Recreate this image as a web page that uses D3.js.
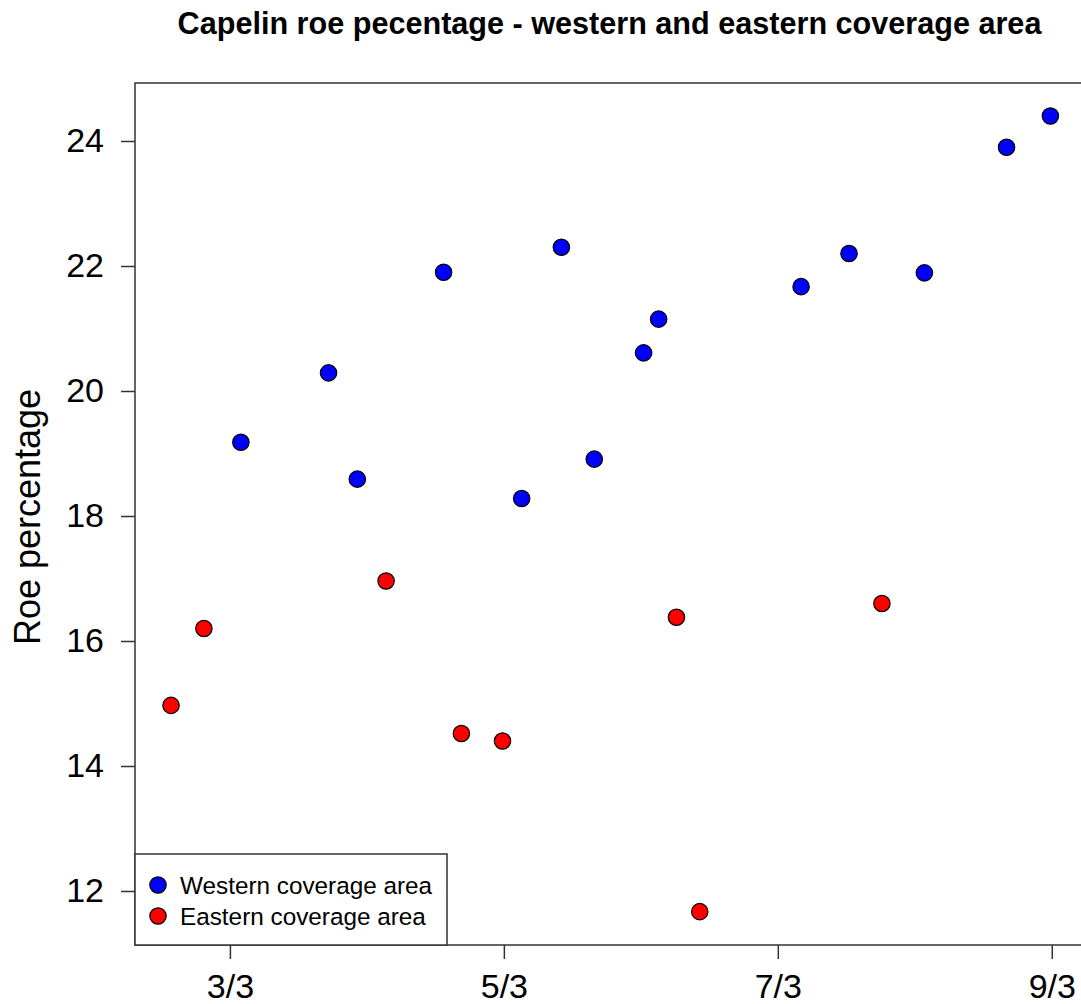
<!DOCTYPE html>
<html>
<head>
<meta charset="utf-8">
<script src="https://cdn.jsdelivr.net/npm/d3@7"></script>
<style>
  html, body { margin: 0; padding: 0; background: #fff; }
  svg { display: block; font-family: "Liberation Sans", Arial, sans-serif; }
</style>
</head>
<body>
<svg id="chart" width="1081" height="1004"></svg>
<script>
// Sampling day (day of March) and roe percentage for each coverage area
const westernDay = [3.08, 3.72, 3.93, 4.56, 5.13, 5.42, 5.66, 6.02, 6.13, 7.17, 7.52, 8.07, 8.67, 8.99];
const westernRoe = [19.18, 20.29, 18.59, 21.90, 18.28, 22.30, 18.91, 20.61, 21.15, 21.67, 22.20, 21.89, 23.90, 24.40];
const easternDay = [2.57, 2.81, 4.14, 4.69, 4.99, 6.26, 6.43, 7.76];
const easternRoe = [14.97, 16.20, 16.96, 14.52, 14.40, 16.38, 11.67, 16.60];

const xTickValues = [3, 5, 7, 9];
const xTickLabels = ["3/3", "5/3", "7/3", "9/3"];
const yTickValues = [12, 14, 16, 18, 20, 22, 24];

const seriesNames = ["Western coverage area", "Eastern coverage area"];
const seriesColors = ["#0000ff", "#ff0000"];

const titleText = "Capelin roe pecentage - western and eastern coverage area";
const yLabelText = "Roe percentage";

// Plot region
const plotLeft = 135, plotTop = 83, plotRight = 1086, plotBottom = 945;

const svg = d3.select("#chart");

const x = d3.scaleLinear().domain([2.307, 9.25]).range([plotLeft, plotRight]);
const y = d3.scaleLinear().domain([11.136, 24.928]).range([plotBottom, plotTop]);

// Title
svg.append("text")
  .attr("x", (plotLeft + plotRight) / 2 - 1)
  .attr("y", 34)
  .attr("text-anchor", "middle")
  .attr("font-weight", "bold")
  .attr("font-size", 30.6)
  .attr("fill", "#000")
  .text(titleText);

// Axes
const xAxis = d3.axisBottom(x)
  .tickValues(xTickValues)
  .tickFormat((d, i) => xTickLabels[i])
  .tickSize(14)
  .tickPadding(15);

const yAxis = d3.axisLeft(y)
  .tickValues(yTickValues)
  .tickSize(14)
  .tickPadding(17);

const gx = svg.append("g").attr("transform", `translate(0,${plotBottom})`).call(xAxis);
const gy = svg.append("g").attr("transform", `translate(${plotLeft},0)`).call(yAxis);

[gx, gy].forEach(g => {
  g.select(".domain").remove();
  g.selectAll(".tick line").attr("stroke", "#333").attr("stroke-width", 1.5);
  g.selectAll(".tick text")
    .attr("font-family", "'Liberation Sans', Arial, sans-serif")
    .attr("font-size", 34)
    .attr("fill", "#000");
});

// Y axis title
svg.append("text")
  .attr("transform", `translate(40,${(plotTop + plotBottom) / 2 + 3}) rotate(-90)`)
  .attr("text-anchor", "middle")
  .attr("font-size", 36)
  .attr("fill", "#000")
  .text(yLabelText);

// Plot frame
svg.append("rect")
  .attr("x", plotLeft).attr("y", plotTop)
  .attr("width", plotRight - plotLeft).attr("height", plotBottom - plotTop)
  .attr("fill", "none")
  .attr("stroke", "#333")
  .attr("stroke-width", 1.5);

// Points
const western = westernDay.map((d, i) => ({ day: d, roe: westernRoe[i] }));
const eastern = easternDay.map((d, i) => ({ day: d, roe: easternRoe[i] }));

[western, eastern].forEach((series, k) => {
  svg.append("g")
    .selectAll("circle")
    .data(series)
    .join("circle")
    .attr("cx", d => x(d.day))
    .attr("cy", d => y(d.roe))
    .attr("r", 8.2)
    .attr("fill", seriesColors[k])
    .attr("stroke", "#000")
    .attr("stroke-width", 1.2);
});

// Legend
const legendTop = 854, legendRight = 447;
const legend = svg.append("g");
legend.append("rect")
  .attr("x", plotLeft).attr("y", legendTop)
  .attr("width", legendRight - plotLeft).attr("height", plotBottom - legendTop)
  .attr("fill", "#fff")
  .attr("stroke", "#333")
  .attr("stroke-width", 1.5);

seriesNames.forEach((name, i) => {
  const cy = 885 + i * 31;
  legend.append("circle")
    .attr("cx", 158).attr("cy", cy)
    .attr("r", 8.2)
    .attr("fill", seriesColors[i])
    .attr("stroke", "#000")
    .attr("stroke-width", 1.2);
  legend.append("text")
    .attr("x", 180).attr("y", cy)
    .attr("dy", "0.36em")
    .attr("font-size", 24.3)
    .attr("fill", "#000")
    .text(name);
});
</script>
</body>
</html>
